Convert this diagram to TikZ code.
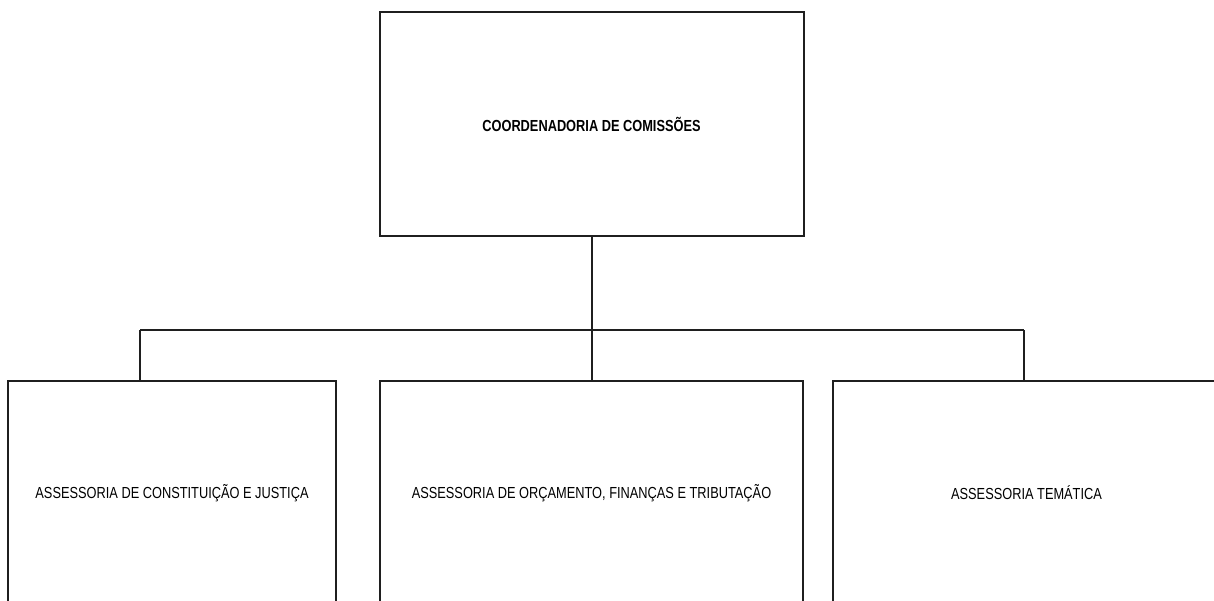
\documentclass[tikz,border=0pt]{standalone}
\usepackage{fontspec}
\setmainfont{Liberation Sans}[FakeStretch=0.8]
\begin{document}
\begin{tikzpicture}[x=1pt,y=-1pt,
	caixa/.style={draw=black!88,line width=2pt,inner sep=0pt,minimum height=224pt,font=\fontsize{16}{18}\selectfont},
	liga/.style={draw=black!88,line width=2pt}]
	\useasboundingbox (0,0) rectangle (1214,600);
	\clip (0,0) rectangle (1214,600);
	\node[caixa,minimum width=424pt,font=\fontsize{16}{18}\selectfont\bfseries] (coord) at (591.5,124) {COORDENADORIA DE COMISSÕES};
	\node[caixa,minimum width=328pt] (cj) at (172,493) {ASSESSORIA DE CONSTITUIÇÃO E JUSTIÇA};
	\node[caixa,minimum width=423pt] (orc) at (591.5,493) {ASSESSORIA DE ORÇAMENTO, FINANÇAS E TRIBUTAÇÃO};
	\node[caixa,minimum width=387pt] (tem) at (1026.5,493) {ASSESSORIA TEMÁTICA};
	\coordinate (barL) at (140,330);
	\coordinate (barR) at (1024,330);
	\draw[liga] (coord.south) -- (orc.north);
	\draw[liga] (barL) -- (barR);
	\draw[liga] (barL) -- (barL |- cj.north);
	\draw[liga] (barR) -- (barR |- tem.north);
\end{tikzpicture}
\end{document}
